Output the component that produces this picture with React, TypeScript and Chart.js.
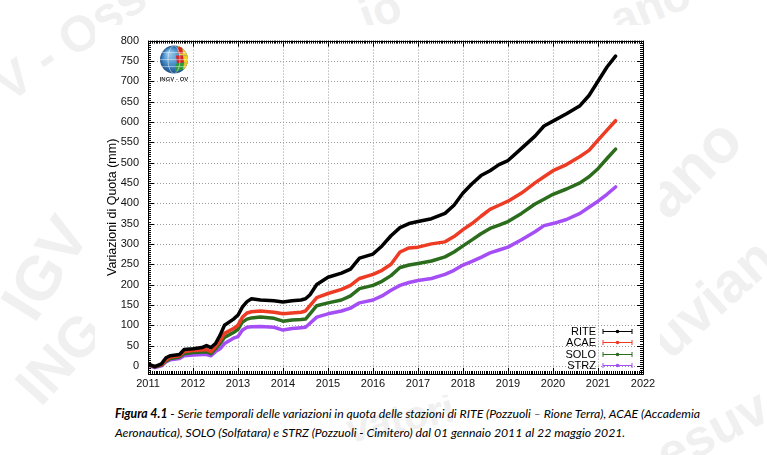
import React, { useEffect, useRef } from "react";
import { Chart, registerables } from "chart.js";

Chart.register(...registerables);

// Decimal-year sampling times shared by all four stations
const years = [
  2011.0, 2011.15, 2011.3, 2011.4, 2011.5, 2011.7, 2011.8, 2012.0, 2012.2, 2012.3,
  2012.4, 2012.5, 2012.6, 2012.7, 2012.9, 2013.0, 2013.1, 2013.2, 2013.3, 2013.5,
  2013.8, 2014.0, 2014.2, 2014.4, 2014.5, 2014.6, 2014.75, 2015.0, 2015.3, 2015.5,
  2015.7, 2016.0, 2016.2, 2016.4, 2016.6, 2016.8, 2017.0, 2017.3, 2017.6, 2017.8,
  2018.0, 2018.2, 2018.4, 2018.6, 2018.8, 2019.0, 2019.3, 2019.6, 2019.8, 2020.0,
  2020.3, 2020.6, 2020.8, 2021.0, 2021.2, 2021.39,
];

// Vertical displacement (mm) per station
const rite = [
  5, -2, 5, 20, 25, 28, 40, 42, 45, 50,
  45, 55, 75, 100, 115, 125, 145, 158, 165, 162,
  160, 157, 160, 162, 165, 175, 200, 218, 228, 238,
  265, 275, 295, 320, 340, 350, 355, 362, 375, 395,
  425, 448, 468, 480, 495, 505, 535, 565, 590, 602,
  620, 640, 665, 700, 735, 762,
];
const acae = [
  3, -2, 3, 15, 22, 25, 35, 38, 39, 40,
  35, 48, 62, 80, 92, 100, 120, 130, 133, 135,
  132, 128, 130, 132, 135, 148, 168, 178, 188, 198,
  215, 225, 235, 250, 280, 290, 292, 300, 305, 318,
  335, 350, 368, 385, 395, 405, 425, 450, 465, 480,
  495, 515, 530, 555, 580, 603,
];
const solo = [
  3, -2, 2, 12, 18, 22, 30, 33, 34, 35,
  30, 42, 55, 70, 82, 90, 108, 115, 118, 120,
  117, 110, 113, 114, 115, 128, 148, 155, 162, 172,
  190, 198, 208, 222, 242, 248, 252, 258, 268, 280,
  295, 310, 325, 338, 346, 355, 375, 398, 410, 422,
  435, 450, 465, 485, 510, 533,
];
const strz = [
  2, -4, 0, 10, 15, 18, 25, 27, 28, 28,
  25, 35, 42, 55, 68, 72, 88, 95, 96, 97,
  95, 88, 92, 94, 95, 105, 120, 128, 135, 142,
  155, 162, 172, 186, 198, 205, 210, 215, 225, 235,
  248, 257, 267, 278, 285, 292, 310, 330, 345, 350,
  360, 375, 390, 405, 422, 440,
];

const seriesNames = ["RITE", "ACAE", "SOLO", "STRZ"];
const seriesValues = [rite, acae, solo, strz];
const seriesColors = ["#000000", "#ee3b24", "#2b6d1c", "#a54ef5"];

const xTickValues = [2011, 2012, 2013, 2014, 2015, 2016, 2017, 2018, 2019, 2020, 2021, 2022];
const yTickValues = [0, 50, 100, 150, 200, 250, 300, 350, 400, 450, 500, 550, 600, 650, 700, 750, 800];

const yTitle = "Variazioni di Quota (mm)";
const captionBold = "Figura 4.1";
const captionLine1 = " - Serie temporali delle variazioni in quota delle stazioni di RITE (Pozzuoli \u2013 Rione Terra), ACAE (Accademia";
const captionLine2 = "Aeronautica), SOLO (Solfatara) e STRZ (Pozzuoli - Cimitero) dal 01 gennaio 2011 al 22 maggio 2021.";

// Faint background watermark fragments
const watermark = [
  { text: "V - Oss", x: 70, y: 40, rot: -35, size: 50 },
  { text: "io", x: 380, y: 10, rot: -20, size: 46 },
  { text: "ano", x: 650, y: 6, rot: -22, size: 46 },
  { text: "IGV", x: 45, y: 268, rot: -58, size: 62 },
  { text: "ano", x: 692, y: 168, rot: -45, size: 62 },
  { text: "ING", x: 60, y: 358, rot: -48, size: 56 },
  { text: "uvian", x: 712, y: 298, rot: -42, size: 56 },
  { text: "esuv", x: 712, y: 430, rot: -28, size: 52 },
  { text: "vatori", x: 400, y: 418, rot: -12, size: 40 },
];

const FONT = '"Liberation Sans", Arial, sans-serif';

const backgroundPlugin = {
  id: "whiteBackground",
  beforeDraw(chart: any) {
    const { ctx, width, height } = chart;
    ctx.save();
    ctx.fillStyle = "#ffffff";
    ctx.fillRect(0, 0, width, height);
    ctx.restore();
  },
};

// Dotted grid at every major tick of both scales
const gridPlugin = {
  id: "dottedGrid",
  beforeDatasetsDraw(chart: any) {
    const { ctx, chartArea: a, scales } = chart;
    ctx.save();
    ctx.strokeStyle = "#9a9a9a";
    ctx.lineWidth = 1;
    ctx.setLineDash([1, 2]);
    ctx.beginPath();
    xTickValues.forEach((v) => {
      const px = Math.round(scales.x.getPixelForValue(v)) + 0.5;
      ctx.moveTo(px, a.top);
      ctx.lineTo(px, a.bottom);
    });
    yTickValues.forEach((v) => {
      const py = Math.round(scales.y.getPixelForValue(v)) + 0.5;
      ctx.moveTo(a.left, py);
      ctx.lineTo(a.right, py);
    });
    ctx.stroke();
    ctx.restore();
  },
};

// Plot frame with inward major and minor tick marks on all four sides
const framePlugin = {
  id: "frameTicks",
  afterDatasetsDraw(chart: any) {
    const { ctx, chartArea: a, scales } = chart;
    const xs = scales.x;
    const ys = scales.y;
    ctx.save();
    ctx.strokeStyle = "#000";
    ctx.lineWidth = 1;
    ctx.strokeRect(Math.round(a.left) + 0.5, Math.round(a.top) + 0.5, Math.round(a.right - a.left), Math.round(a.bottom - a.top));
    ctx.beginPath();
    for (let k = 0; k <= 11 * 24; k++) {
      const v = 2011 + k / 24;
      const px = Math.round(xs.getPixelForValue(v)) + 0.5;
      const len = k % 24 === 0 ? 6 : 3;
      ctx.moveTo(px, a.bottom);
      ctx.lineTo(px, a.bottom - len);
      ctx.moveTo(px, a.top);
      ctx.lineTo(px, a.top + len);
    }
    for (let v = -20; v <= 800; v += 5) {
      const py = Math.round(ys.getPixelForValue(v)) + 0.5;
      const len = v % 50 === 0 ? 6 : 3;
      ctx.moveTo(a.left, py);
      ctx.lineTo(a.left + len, py);
      ctx.moveTo(a.right, py);
      ctx.lineTo(a.right - len, py);
    }
    ctx.stroke();
    ctx.restore();
  },
};

const legendPlugin = {
  id: "stationLegend",
  afterDraw(chart: any) {
    const { ctx, chartArea: a } = chart;
    ctx.save();
    ctx.font = `11px ${FONT}`;
    ctx.textAlign = "right";
    ctx.textBaseline = "middle";
    seriesNames.forEach((name, i) => {
      const y = Math.round(a.bottom - 43 + i * 11.4) + 0.5;
      ctx.fillStyle = "#000";
      ctx.fillText(name, a.right - 47, y);
      const x1 = a.right - 40;
      const x2 = a.right - 11;
      ctx.strokeStyle = seriesColors[i];
      ctx.lineWidth = 1;
      ctx.beginPath();
      ctx.moveTo(x1, y);
      ctx.lineTo(x2, y);
      ctx.moveTo(x1, y - 2.5);
      ctx.lineTo(x1, y + 2.5);
      ctx.moveTo(x2, y - 2.5);
      ctx.lineTo(x2, y + 2.5);
      ctx.stroke();
      ctx.fillStyle = seriesColors[i];
      ctx.beginPath();
      ctx.arc((x1 + x2) / 2, y, 1.8, 0, Math.PI * 2);
      ctx.fill();
    });
    ctx.restore();
  },
};

const axisTitlePlugin = {
  id: "yAxisTitle",
  afterDraw(chart: any) {
    const { ctx, chartArea: a } = chart;
    ctx.save();
    ctx.translate(a.left - 35, (a.top + a.bottom) / 2);
    ctx.rotate(-Math.PI / 2);
    ctx.font = `12.5px ${FONT}`;
    ctx.fillStyle = "#000";
    ctx.textAlign = "center";
    ctx.textBaseline = "middle";
    ctx.fillText(yTitle, 0, 0);
    ctx.restore();
  },
};

// Small globe emblem with its caption in the top-left corner of the plot
const logoPlugin = {
  id: "ingvLogo",
  afterDraw(chart: any) {
    const { ctx, chartArea: a } = chart;
    const cx = a.left + 26;
    const cy = a.top + 19;
    const r = 14;
    ctx.save();
    ctx.beginPath();
    ctx.arc(cx, cy, r, 0, Math.PI * 2);
    ctx.closePath();
    const g = ctx.createRadialGradient(cx - 5, cy - 6, 2, cx, cy, r);
    g.addColorStop(0, "#8fc3ea");
    g.addColorStop(0.6, "#3d85c0");
    g.addColorStop(1, "#1d4f86");
    ctx.fillStyle = g;
    ctx.fill();
    ctx.clip();
    const patch = (pts: number[][], color: string) => {
      ctx.beginPath();
      ctx.moveTo(cx + pts[0][0], cy + pts[0][1]);
      for (let i = 1; i < pts.length; i++) ctx.lineTo(cx + pts[i][0], cy + pts[i][1]);
      ctx.closePath();
      ctx.fillStyle = color;
      ctx.fill();
    };
    patch([[4, -14], [14, -12], [14, -4], [6, -4], [3, -9]], "#e8d23a");
    patch([[3, -12], [8, -13], [9, -6], [4, -6]], "#d42a2a");
    patch([[2, -4], [9, -4], [10, 3], [3, 4]], "#d82626");
    patch([[9, -4], [15, -4], [15, 4], [10, 3]], "#f0d21e");
    patch([[2, 4], [10, 3], [9, 10], [1, 12]], "#2f9a3a");
    patch([[10, 3], [15, 4], [14, 10], [9, 10]], "#e2c82a");
    ctx.strokeStyle = "rgba(255,255,255,0.8)";
    ctx.lineWidth = 0.6;
    ctx.beginPath();
    ctx.ellipse(cx, cy, 6, r, 0, 0, Math.PI * 2);
    ctx.moveTo(cx - r, cy);
    ctx.lineTo(cx + r, cy);
    ctx.moveTo(cx - r, cy - 7);
    ctx.lineTo(cx + r, cy - 7);
    ctx.moveTo(cx - r, cy + 7);
    ctx.lineTo(cx + r, cy + 7);
    ctx.stroke();
    ctx.restore();
    ctx.save();
    ctx.font = `bold 6px ${FONT}`;
    ctx.fillStyle = "#333";
    ctx.textAlign = "center";
    ctx.textBaseline = "middle";
    ctx.fillText("INGV - OV", cx, cy + 20);
    ctx.restore();
  },
};

function StationChart() {
  const canvasRef = useRef<HTMLCanvasElement | null>(null);

  useEffect(() => {
    if (!canvasRef.current) return;
    const datasets = seriesNames.map((name, i) => ({
      label: name,
      data: years.map((t, k) => ({ x: t, y: seriesValues[i][k] })),
      borderColor: seriesColors[i],
      backgroundColor: seriesColors[i],
      borderWidth: 3.5,
      pointRadius: 0,
      tension: 0,
      borderJoinStyle: "round" as const,
      borderCapStyle: "round" as const,
    }));

    const chart = new Chart(canvasRef.current, {
      type: "line",
      data: { datasets },
      plugins: [backgroundPlugin, gridPlugin, framePlugin, legendPlugin, axisTitlePlugin, logoPlugin],
      options: {
        responsive: false,
        animation: false,
        layout: { padding: { top: 8, right: 17, left: 0, bottom: 0 } },
        plugins: {
          legend: { display: false },
          tooltip: { enabled: false },
        },
        scales: {
          x: {
            type: "linear",
            min: 2011,
            max: 2022,
            afterBuildTicks: (s: any) => {
              s.ticks = xTickValues.map((v) => ({ value: v }));
            },
            afterFit: (s: any) => {
              s.height = 21;
            },
            grid: { display: false, drawTicks: false },
            border: { display: false },
            ticks: {
              padding: 3,
              color: "#111",
              font: { family: FONT, size: 11 },
              maxRotation: 0,
              autoSkip: false,
              callback: (v: any) => String(v),
            },
          },
          y: {
            type: "linear",
            min: -20,
            max: 800,
            afterBuildTicks: (s: any) => {
              s.ticks = yTickValues.map((v) => ({ value: v }));
            },
            afterFit: (s: any) => {
              s.width = 53;
            },
            grid: { display: false, drawTicks: false },
            border: { display: false },
            ticks: {
              padding: 9,
              color: "#111",
              font: { family: FONT, size: 11 },
              autoSkip: false,
              callback: (v: any) => String(v),
            },
          },
        },
      },
    });
    return () => chart.destroy();
  }, []);

  return (
    <canvas
      ref={canvasRef}
      width={565}
      height={370}
      style={{ position: "absolute", left: 95, top: 25, width: 565, height: 370 }}
    />
  );
}

export default function App() {
  return (
    <div
      style={{
        position: "absolute",
        left: 0,
        top: 0,
        width: 767,
        height: 455,
        overflow: "hidden",
        background: "#ffffff",
      }}
    >
      {watermark.map((w, i) => (
        <div
          key={i}
          style={{
            position: "absolute",
            left: w.x,
            top: w.y,
            transform: `translate(-50%, -50%) rotate(${w.rot}deg)`,
            fontFamily: FONT,
            fontWeight: "bold",
            fontSize: w.size,
            color: "#f0f0f0",
            whiteSpace: "nowrap",
            lineHeight: 1,
          }}
        >
          {w.text}
        </div>
      ))}
      <StationChart />
      <div
        style={{
          position: "absolute",
          left: 115,
          top: 404,
          fontFamily: '"Lato", "Open Sans", sans-serif',
          fontStyle: "italic",
          fontSize: 12.25,
          lineHeight: "19px",
          color: "#000",
          whiteSpace: "nowrap",
        }}
      >
        <div>
          <b>{captionBold}</b>
          {captionLine1}
        </div>
        <div>{captionLine2}</div>
      </div>
    </div>
  );
}
